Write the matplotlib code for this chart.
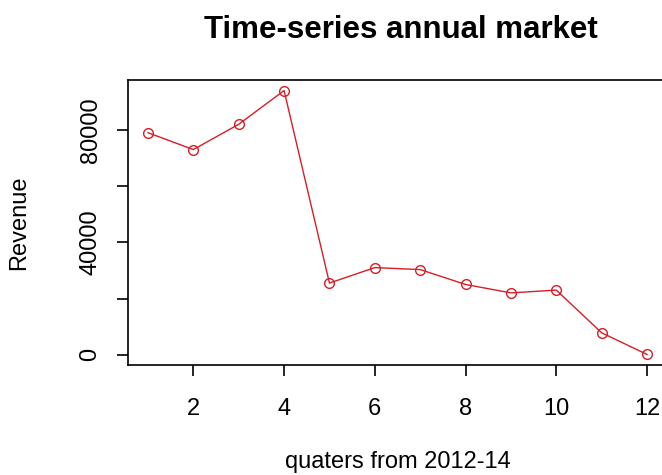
import matplotlib
matplotlib.use("Agg")
import matplotlib.pyplot as plt

# quarterly revenue
quarters = [1, 2, 3, 4, 5, 6, 7, 8, 9, 10, 11, 12]
revenue = [79000, 73000, 82000, 94000, 25500, 31000, 30300, 25000, 22000, 23000, 7800, 100]

x_ticks = [2, 4, 6, 8, 10, 12]
y_ticks = [0, 20000, 40000, 60000, 80000]
y_tick_labels = ["0", "", "40000", "", "80000"]

plt.rcParams['font.family'] = ['Liberation Sans', 'DejaVu Sans']

fig = plt.figure(figsize=(6.62, 4.75), dpi=100)
ax = fig.add_axes([128 / 662, 1 - 365 / 475, 539 / 662, 285 / 475])

ax.plot(quarters, revenue, color='#d81e24', linewidth=1.0, marker='o',
        markersize=7, markerfacecolor='none', markeredgewidth=1.0)

# R-style 4% padding on both axes
xr = max(quarters) - min(quarters)
ax.set_xlim(min(quarters) - 0.04 * xr, max(quarters) + 0.04 * xr)
yr = max(revenue) - min(revenue)
ax.set_ylim(min(revenue) - 0.04 * yr, max(revenue) + 0.04 * yr)

ax.set_xticks(x_ticks)
ax.set_yticks(y_ticks)
ax.set_yticklabels(y_tick_labels, rotation=90, va='center')
ax.tick_params(axis='x', length=8, width=1.2, pad=16, labelsize=17)
ax.tick_params(axis='y', length=8, width=1.2, pad=11, labelsize=17)
for s in ax.spines.values():
    s.set_linewidth(1.2)

ax.set_xlabel('quaters from 2012-14', fontsize=17)
ax.xaxis.set_label_coords(0.5, -0.302)
ax.set_ylabel('Revenue', fontsize=17)
ax.yaxis.set_label_coords(-0.182, 0.5)

fig.text(401 / 662, 1 - 30 / 475, 'Time-series annual market', ha='center', va='center',
         fontsize=22.5, fontweight='bold')

fig.savefig('out.png', dpi=100)
